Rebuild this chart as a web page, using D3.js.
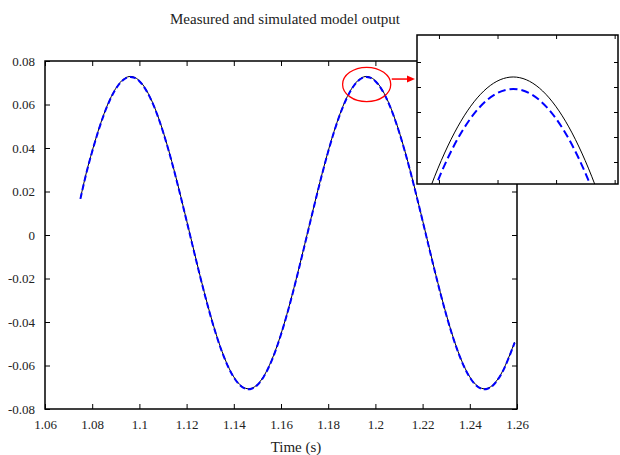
<!DOCTYPE html>
<html>
<head>
<meta charset="utf-8">
<script src="https://cdn.jsdelivr.net/npm/d3@7"></script>
<style>
  body { margin: 0; background: #fff; }
  text { font-family: "Liberation Serif", "Times New Roman", serif; fill: #222; }
</style>
</head>
<body>
<div id="chart"></div>
<script>
// time samples (s)
const time = [
  1.075, 1.0775, 1.08, 1.0825, 1.085, 1.0875, 1.09, 1.0925, 1.095, 1.0975,
  1.1, 1.1025, 1.105, 1.1075, 1.11, 1.1125, 1.115, 1.1175, 1.12, 1.1225,
  1.125, 1.1275, 1.13, 1.1325, 1.135, 1.1375, 1.14, 1.1425, 1.145, 1.1475,
  1.15, 1.1525, 1.155, 1.1575, 1.16, 1.1625, 1.165, 1.1675, 1.17, 1.1725,
  1.175, 1.1775, 1.18, 1.1825, 1.185, 1.1875, 1.19, 1.1925, 1.195, 1.1975,
  1.2, 1.2025, 1.205, 1.2075, 1.21, 1.2125, 1.215, 1.2175, 1.22, 1.2225,
  1.225, 1.2275, 1.23, 1.2325, 1.235, 1.2375, 1.24, 1.2425, 1.245, 1.2475,
  1.25, 1.2525, 1.255, 1.2575, 1.259
];

// measured output (black solid)
const measured = [
  0.0168, 0.028577, 0.038615, 0.047730, 0.055697, 0.062320, 0.067435, 0.070916, 0.072679, 0.072679,
  0.070916, 0.067435, 0.062320, 0.055697, 0.047730, 0.038615, 0.028577, 0.017861, 0.006733, -0.004533,
  -0.015661, -0.026377, -0.036415, -0.045530, -0.053497, -0.060120, -0.065235, -0.068716, -0.070479, -0.070479,
  -0.068716, -0.065235, -0.060120, -0.053497, -0.045530, -0.036415, -0.026377, -0.015661, -0.004533, 0.006733,
  0.017861, 0.028577, 0.038615, 0.047730, 0.055697, 0.062320, 0.067435, 0.070916, 0.072679, 0.072679,
  0.070916, 0.067435, 0.062320, 0.055697, 0.047730, 0.038615, 0.028577, 0.017861, 0.006733, -0.004533,
  -0.015661, -0.026377, -0.036415, -0.045530, -0.053497, -0.060120, -0.065235, -0.068716, -0.070479, -0.070479,
  -0.068716, -0.065235, -0.060120, -0.053497, -0.0493
];

// simulated model output (blue dashed)
const simulated = [
  0.0166, 0.028337, 0.038375, 0.047490, 0.055457, 0.062080, 0.067195, 0.070676, 0.072439, 0.072439,
  0.070676, 0.067195, 0.062080, 0.055457, 0.047490, 0.038375, 0.028337, 0.017621, 0.006493, -0.004773,
  -0.015901, -0.026617, -0.036655, -0.045770, -0.053737, -0.060360, -0.065475, -0.068956, -0.070719, -0.070719,
  -0.068956, -0.065475, -0.060360, -0.053737, -0.045770, -0.036655, -0.026617, -0.015901, -0.004773, 0.006493,
  0.017621, 0.028337, 0.038375, 0.047490, 0.055457, 0.062080, 0.067195, 0.070676, 0.072439, 0.072439,
  0.070676, 0.067195, 0.062080, 0.055457, 0.047490, 0.038375, 0.028337, 0.017621, 0.006493, -0.004773,
  -0.015901, -0.026617, -0.036655, -0.045770, -0.053737, -0.060360, -0.065475, -0.068956, -0.070719, -0.070719,
  -0.068956, -0.065475, -0.060360, -0.053737, -0.0495
];

const xTicks = [1.06, 1.08, 1.1, 1.12, 1.14, 1.16, 1.18, 1.2, 1.22, 1.24, 1.26];
const yTicks = [-0.08, -0.06, -0.04, -0.02, 0, 0.02, 0.04, 0.06, 0.08];

// zoomed view around the second peak
const insetXDomain = [1.19165, 1.20126];
const insetYDomain = [0.07076, 0.07374];
const insetXTicks = [1.1927, 1.1955, 1.1983, 1.2011];
const insetYTicks = [0.0712, 0.0717, 0.0722, 0.0727, 0.0732];

// red circle marking the zoomed region + arrow height
const zoomMark = { t: 1.1963, v: 0.0692, rt: 0.0102, rv: 0.0079 };
const arrowV = 0.0717;

const W = 620, H = 455;
const plot = { left: 45, right: 517, top: 61, bottom: 409 };
const inset = { left: 417, right: 618, top: 35, bottom: 184 };

const svg = d3.select("#chart").append("svg")
  .attr("width", W).attr("height", H);

const x = d3.scaleLinear().domain([1.06, 1.26]).range([plot.left, plot.right]);
const y = d3.scaleLinear().domain([-0.08, 0.08]).range([plot.bottom, plot.top]);

const fmt = d => d === 0 ? "0" : String(+d.toFixed(2));

const rows = time.map((t, i) => ({ t: t, m: measured[i], s: simulated[i] }));

// title
svg.append("text")
  .attr("x", 285).attr("y", 24)
  .attr("text-anchor", "middle")
  .style("font-size", "15px")
  .text("Measured and simulated model output");

// axes, ticks pointing inward on every side
const tk = 5;
svg.append("g")
  .attr("transform", "translate(0," + plot.bottom + ")")
  .call(d3.axisBottom(x).tickValues(xTicks).tickSize(-tk).tickPadding(11).tickFormat(fmt))
  .call(g => g.select(".domain").remove());
svg.append("g")
  .attr("transform", "translate(0," + plot.top + ")")
  .call(d3.axisTop(x).tickValues(xTicks).tickSize(-tk).tickFormat(""))
  .call(g => g.select(".domain").remove());
svg.append("g")
  .attr("transform", "translate(" + plot.left + ",0)")
  .call(d3.axisLeft(y).tickValues(yTicks).tickSize(-tk).tickPadding(10).tickFormat(fmt))
  .call(g => g.select(".domain").remove());
svg.append("g")
  .attr("transform", "translate(" + plot.right + ",0)")
  .call(d3.axisRight(y).tickValues(yTicks).tickSize(-tk).tickFormat(""))
  .call(g => g.select(".domain").remove());

svg.selectAll(".tick text").style("font-size", "13px").attr("fill", "#222");
svg.selectAll(".tick line").attr("stroke", "#000");

svg.append("rect")
  .attr("x", plot.left).attr("y", plot.top)
  .attr("width", plot.right - plot.left).attr("height", plot.bottom - plot.top)
  .attr("fill", "none").attr("stroke", "#000").attr("stroke-width", 1.5);

// x label
svg.append("text")
  .attr("x", 296).attr("y", 452)
  .attr("text-anchor", "middle")
  .style("font-size", "15px")
  .text("Time (s)");

// curves
const lineM = d3.line().x(d => x(d.t)).y(d => y(d.m)).curve(d3.curveNatural);
const lineS = d3.line().x(d => x(d.t)).y(d => y(d.s)).curve(d3.curveNatural);

svg.append("path").datum(rows)
  .attr("d", lineM)
  .attr("fill", "none").attr("stroke", "#000").attr("stroke-width", 1);
svg.append("path").datum(rows)
  .attr("d", lineS)
  .attr("fill", "none").attr("stroke", "#0000ff").attr("stroke-width", 2)
  .attr("stroke-dasharray", "6,3");

// red circle + arrow
svg.append("ellipse")
  .attr("cx", x(zoomMark.t)).attr("cy", y(zoomMark.v))
  .attr("rx", x(zoomMark.t + zoomMark.rt) - x(zoomMark.t))
  .attr("ry", y(zoomMark.v - zoomMark.rv) - y(zoomMark.v))
  .attr("fill", "none").attr("stroke", "#ff0000").attr("stroke-width", 1.3);

const ax0 = x(zoomMark.t + zoomMark.rt) + 1, ax1 = inset.left - 9, ay = y(arrowV);
svg.append("line")
  .attr("x1", ax0).attr("x2", ax1).attr("y1", ay).attr("y2", ay)
  .attr("stroke", "#ff0000").attr("stroke-width", 1.5);
svg.append("path")
  .attr("d", "M" + (ax1 - 1) + "," + (ay - 3.5) + "L" + (ax1 + 7) + "," + ay + "L" + (ax1 - 1) + "," + (ay + 3.5) + "Z")
  .attr("fill", "#ff0000");

// inset
const xi = d3.scaleLinear().domain(insetXDomain).range([inset.left, inset.right]);
const yi = d3.scaleLinear().domain(insetYDomain).range([inset.bottom, inset.top]);

const ig = svg.append("g");
ig.append("rect")
  .attr("x", inset.left).attr("y", inset.top)
  .attr("width", inset.right - inset.left).attr("height", inset.bottom - inset.top)
  .attr("fill", "#fff");

svg.append("clipPath").attr("id", "insetClip")
  .append("rect")
  .attr("x", inset.left).attr("y", inset.top)
  .attr("width", inset.right - inset.left).attr("height", inset.bottom - inset.top);

const lineMi = d3.line().x(d => xi(d.t)).y(d => yi(d.m)).curve(d3.curveNatural);
const lineSi = d3.line().x(d => xi(d.t)).y(d => yi(d.s)).curve(d3.curveNatural);

const ic = ig.append("g").attr("clip-path", "url(#insetClip)");
ic.append("path").datum(rows)
  .attr("d", lineMi)
  .attr("fill", "none").attr("stroke", "#000").attr("stroke-width", 1);
ic.append("path").datum(rows)
  .attr("d", lineSi)
  .attr("fill", "none").attr("stroke", "#0000ff").attr("stroke-width", 2)
  .attr("stroke-dasharray", "8,4");

const itk = 4;
ig.append("g").attr("transform", "translate(0," + inset.bottom + ")")
  .call(d3.axisBottom(xi).tickValues(insetXTicks).tickSize(-itk).tickFormat(""));
ig.append("g").attr("transform", "translate(0," + inset.top + ")")
  .call(d3.axisTop(xi).tickValues(insetXTicks).tickSize(-itk).tickFormat(""));
ig.append("g").attr("transform", "translate(" + inset.left + ",0)")
  .call(d3.axisLeft(yi).tickValues(insetYTicks).tickSize(-itk).tickFormat(""));
ig.append("g").attr("transform", "translate(" + inset.right + ",0)")
  .call(d3.axisRight(yi).tickValues(insetYTicks).tickSize(-itk).tickFormat(""));
ig.selectAll(".domain").remove();
ig.selectAll(".tick line").attr("stroke", "#000");

ig.append("rect")
  .attr("x", inset.left).attr("y", inset.top)
  .attr("width", inset.right - inset.left).attr("height", inset.bottom - inset.top)
  .attr("fill", "none").attr("stroke", "#000").attr("stroke-width", 1.5);
</script>
</body>
</html>
